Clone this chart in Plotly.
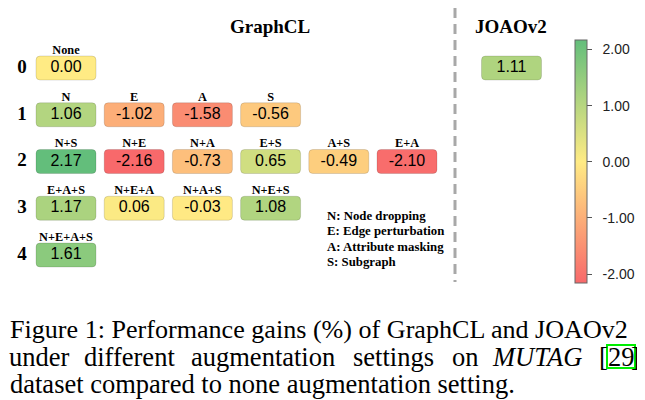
import plotly.graph_objects as go

# ---------------- data ----------------
row_labels = ["0", "1", "2", "3", "4"]
row_index = [0, 1, 2, 3, 4]

gcl_row = [0, 1, 1, 1, 1, 2, 2, 2, 2, 2, 2, 3, 3, 3, 3, 4]
gcl_col = [0, 0, 1, 2, 3, 0, 1, 2, 3, 4, 5, 0, 1, 2, 3, 0]
gcl_label = ["None", "N", "E", "A", "S",
             "N+S", "N+E", "N+A", "E+S", "A+S", "E+A",
             "E+A+S", "N+E+A", "N+A+S", "N+E+S",
             "N+E+A+S"]
gcl_value = [0.00, 1.06, -1.02, -1.58, -0.56,
             2.17, -2.16, -0.73, 0.65, -0.49, -2.10,
             1.17, 0.06, -0.03, 1.08,
             1.61]

joao_row = [0]
joao_col = [0]
joao_value = [1.11]

colorbar_ticks = [-2, -1, 0, 1, 2]

legend_lines = ["N: Node dropping", "E: Edge perturbation",
                "A: Attribute masking", "S: Subgraph"]

panel_titles = ["GraphCL", "JOAOv2"]

caption_line1 = "Figure 1: Performance gains (%) of GraphCL and JOAOv2"
caption_line2_words = ["under", "different", "augmentation", "settings", "on", "<i>MUTAG</i>", "[", "29", "]"]
caption_line3 = "dataset compared to none augmentation setting."

# ---------------- style ----------------
W, H = 645, 400
OFF = 8  # page body margin compensation
SERIF = "Liberation Serif, Times New Roman, serif"
SANS = "Liberation Sans, Arial, sans-serif"
scale_colors = [(248, 105, 107), (255, 235, 132), (99, 190, 123)]

all_vals = gcl_value + joao_value
cmin, cmax = min(all_vals), max(all_vals)


def color_of(v):
    # 3-colour scale: min -> red, 0 -> yellow, max -> green
    if v <= 0:
        t = (v - cmin) / (0 - cmin)
        a, b = scale_colors[0], scale_colors[1]
    else:
        t = v / cmax
        a, b = scale_colors[1], scale_colors[2]
    c = [round(a[i] + (b[i] - a[i]) * t) for i in range(3)]
    return "rgb(%d,%d,%d)" % tuple(c)


# axis geometry (pixel mapping of the grid)
X0, XSTEP = 66, 68.2
Y0, YSTEP = 68, 46.75
x_range = [(OFF - X0) / XSTEP, (W + OFF - X0) / XSTEP]
y_range = [(H + OFF - Y0) / YSTEP, (OFF - Y0) / YSTEP]
JX0 = 511.5
x2_range = [(OFF - JX0) / XSTEP, (W + OFF - JX0) / XSTEP]

HW = 30 / XSTEP
HH = 12 / YSTEP
RX = 4 / XSTEP
RY = 4 / YSTEP


def rounded(cx, cy):
    x0, x1 = cx - HW, cx + HW
    y0, y1 = cy - HH, cy + HH
    return (f"M {x0+RX},{y0} L {x1-RX},{y0} Q {x1},{y0} {x1},{y0+RY} "
            f"L {x1},{y1-RY} Q {x1},{y1} {x1-RX},{y1} L {x0+RX},{y1} "
            f"Q {x0},{y1} {x0},{y1-RY} L {x0},{y0+RY} Q {x0},{y0} {x0+RX},{y0} Z")


def px(x):
    return (x - OFF) / W


def py(y):
    return 1 - (y - OFF) / H


fig = go.Figure()
shapes = []
for r, c, v in zip(gcl_row, gcl_col, gcl_value):
    shapes.append(dict(type="path", path=rounded(c, r), xref="x", yref="y",
                       fillcolor=color_of(v), line=dict(color="rgba(0,0,0,0.13)", width=1),
                       layer="below"))
for r, c, v in zip(joao_row, joao_col, joao_value):
    shapes.append(dict(type="path", path=rounded(c, r), xref="x2", yref="y",
                       fillcolor=color_of(v), line=dict(color="rgba(0,0,0,0.13)", width=1),
                       layer="below"))

# dashed separator
shapes.append(dict(type="line", xref="paper", yref="paper", x0=px(455), x1=px(455),
                   y0=py(8), y1=py(282), line=dict(color="#a8a8a8", width=3, dash="10px,6px")))
# citation box
shapes.append(dict(type="rect", xref="paper", yref="paper", x0=px(607), x1=px(635),
                   y0=py(368), y1=py(345), line=dict(color="#00ee00", width=2)))

# cell values
fig.add_trace(go.Scatter(x=gcl_col, y=gcl_row, mode="text",
                         text=["%.2f" % v for v in gcl_value],
                         textfont=dict(family=SANS, size=16, color="black"),
                         hoverinfo="skip", showlegend=False))
fig.add_trace(go.Scatter(x=joao_col, y=joao_row, mode="text", xaxis="x2",
                         text=["%.2f" % v for v in joao_value],
                         textfont=dict(family=SANS, size=16, color="black"),
                         hoverinfo="skip", showlegend=False))
# column labels
fig.add_trace(go.Scatter(x=gcl_col, y=[r - 0.37 for r in gcl_row], mode="text",
                         text=gcl_label,
                         textfont=dict(family=SERIF, size=12.3, color="black", weight="bold"),
                         hoverinfo="skip", showlegend=False))
# row labels
fig.add_trace(go.Scatter(x=[(22 - X0) / XSTEP] * len(row_index), y=row_index, mode="text",
                         text=row_labels,
                         textfont=dict(family=SERIF, size=19, color="black", weight="bold"),
                         hoverinfo="skip", showlegend=False))
# colour bar carrier
fig.add_trace(go.Scatter(x=gcl_col, y=gcl_row, mode="markers",
                         marker=dict(color=gcl_value, cmin=cmin, cmax=cmax, opacity=0, size=1,
                                     colorscale=[[0, "rgb(248,105,107)"], [(0 - cmin) / (cmax - cmin), "rgb(255,235,132)"],
                                                 [1, "rgb(99,190,123)"]],
                                     showscale=True,
                                     colorbar=dict(thickness=12, thicknessmode="pixels",
                                                   len=243, lenmode="pixels",
                                                   x=px(575), xanchor="left", y=py(161.5), yanchor="middle",
                                                   xpad=0, ypad=0, outlinewidth=1, outlinecolor="#666",
                                                   ticks="outside", ticklen=5, tickwidth=1, tickcolor="#555",
                                                   tickvals=colorbar_ticks,
                                                   ticktext=["\u00a0\u00a0%.2f" % t for t in colorbar_ticks],
                                                   tickfont=dict(family=SANS, size=14, color="#222"))),
                         hoverinfo="skip", showlegend=False))

ann = []
# panel titles
ann.append(dict(text=panel_titles[0], x=px(270), y=py(27), xref="paper", yref="paper",
                showarrow=False, xanchor="center", yanchor="middle",
                font=dict(family=SERIF, size=19, color="black", weight="bold")))
ann.append(dict(text=panel_titles[1], x=px(511), y=py(27), xref="paper", yref="paper",
                showarrow=False, xanchor="center", yanchor="middle",
                font=dict(family=SERIF, size=19, color="black", weight="bold")))
# legend text
for i, t in enumerate(legend_lines):
    ann.append(dict(text=t, x=px(325), y=py(216 + 15.4 * i), xref="paper", yref="paper",
                    showarrow=False, xanchor="left", yanchor="middle",
                    font=dict(family=SERIF, size=12.8, color="black", weight="bold")))
# caption
cap_font = dict(family=SERIF, size=26.5, color="black")
ann.append(dict(text=caption_line1, x=px(8), y=py(329), xref="paper", yref="paper",
                showarrow=False, xanchor="left", yanchor="middle",
                font=dict(family=SERIF, size=26.1, color="black")))
word_x = [8, 83, 190, 352, 451, 491, 598, 621, 641]
word_anchor = ["left"] * 6 + ["left", "center", "right"]
for wx, w, an in zip(word_x, caption_line2_words, word_anchor):
    ann.append(dict(text=w, x=px(wx), y=py(357), xref="paper", yref="paper",
                    showarrow=False, xanchor=an, yanchor="middle", font=cap_font,
                    borderpad=0))
ann.append(dict(text=caption_line3, x=px(8), y=py(384), xref="paper", yref="paper",
                showarrow=False, xanchor="left", yanchor="middle", font=cap_font))

fig.update_layout(
    width=W, height=H, margin=dict(l=0, r=0, t=0, b=0),
    paper_bgcolor="white", plot_bgcolor="white",
    shapes=shapes, annotations=ann, showlegend=False,
    xaxis=dict(range=x_range, visible=False, fixedrange=True),
    xaxis2=dict(range=x2_range, visible=False, overlaying="x", fixedrange=True),
    yaxis=dict(range=y_range, visible=False, fixedrange=True),
)

fig.write_html("out.html")
